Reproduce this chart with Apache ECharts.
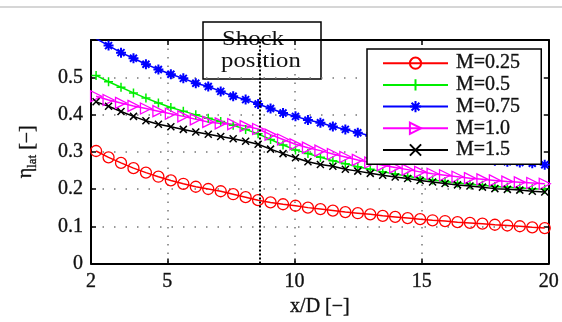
<!DOCTYPE html>
<html><head><meta charset="utf-8">
<script src="https://cdn.jsdelivr.net/npm/echarts@6/dist/echarts.min.js"></script>
<style>html,body{margin:0;padding:0;background:#fff}#c{width:562px;height:322px}</style>
</head><body><div id="c"></div>
<script>
// x/D positions of the markers
const xD = [2.2, 2.69, 3.18, 3.67, 4.16, 4.65, 5.14, 5.63, 6.12, 6.61, 7.1, 7.59, 8.08, 8.57, 9.06, 9.55, 10.04, 10.53, 11.02, 11.51, 12.0, 12.49, 12.98, 13.47, 13.96, 14.45, 14.94, 15.43, 15.92, 16.41, 16.9, 17.39, 17.88, 18.37, 18.86, 19.35, 19.84];
const m025 = [0.302, 0.285, 0.270, 0.256, 0.244, 0.233, 0.223, 0.214, 0.206, 0.200, 0.194, 0.186, 0.178, 0.170, 0.164, 0.159, 0.155, 0.150, 0.146, 0.142, 0.138, 0.135, 0.132, 0.128, 0.125, 0.122, 0.119, 0.116, 0.114, 0.111, 0.109, 0.107, 0.104, 0.102, 0.100, 0.097, 0.095];
const m05 = [0.505, 0.488, 0.473, 0.458, 0.444, 0.431, 0.419, 0.409, 0.399, 0.390, 0.381, 0.371, 0.360, 0.348, 0.333, 0.318, 0.305, 0.295, 0.285, 0.276, 0.268, 0.260, 0.253, 0.246, 0.240, 0.234, 0.228, 0.224, 0.220, 0.216, 0.213, 0.210, 0.207, 0.205, 0.203, 0.201, 0.199];
const m075 = [0.604, 0.585, 0.566, 0.551, 0.535, 0.521, 0.508, 0.497, 0.484, 0.475, 0.462, 0.449, 0.440, 0.428, 0.416, 0.404, 0.395, 0.385, 0.378, 0.368, 0.360, 0.351, 0.343, 0.335, 0.327, 0.319, 0.311, 0.304, 0.297, 0.291, 0.285, 0.280, 0.276, 0.273, 0.271, 0.269, 0.265];
const m10 = [0.449, 0.439, 0.431, 0.423, 0.416, 0.409, 0.402, 0.395, 0.387, 0.380, 0.376, 0.374, 0.369, 0.361, 0.346, 0.333, 0.320, 0.311, 0.303, 0.294, 0.286, 0.278, 0.271, 0.264, 0.258, 0.252, 0.246, 0.241, 0.237, 0.233, 0.229, 0.226, 0.223, 0.220, 0.218, 0.216, 0.214];
const m15 = [0.434, 0.422, 0.408, 0.395, 0.383, 0.374, 0.367, 0.360, 0.353, 0.347, 0.341, 0.335, 0.328, 0.320, 0.307, 0.295, 0.284, 0.273, 0.266, 0.261, 0.253, 0.248, 0.242, 0.237, 0.232, 0.228, 0.223, 0.219, 0.215, 0.211, 0.208, 0.205, 0.201, 0.199, 0.197, 0.194, 0.192];
const seriesNames = ['M=0.25', 'M=0.5', 'M=0.75', 'M=1.0', 'M=1.5'];
const xTickLabels = [2, 5, 10, 15, 20];
const xInnerTicks = [5, 10, 15];
const shockX = 8.65;

const F = 'Liberation Serif';
const TXT = '#111';
const BOLD = { textBorderColor: '#333', textBorderWidth: 0.4 };
const pair = arr => xD.map((x, i) => [x, arr[i]]);

const styles = [
  { c: '#ff0000', sym: 'circle', size: 11, bw: 1.3 },
  { c: '#00ee00', sym: 'path://M5,0L5,10M0,5L10,5', size: 9, bw: 1.5 },
  { c: '#0000ff', sym: 'path://M5,0L5,10M0,5L10,5M1.5,1.5L8.5,8.5M1.5,8.5L8.5,1.5', size: 10, bw: 2 },
  { c: '#ff00ff', sym: 'path://M0,0L10,5L0,10Z', size: 11, bw: 1.3 },
  { c: '#000000', sym: 'path://M0,0L10,10M0,10L10,0', size: 7, bw: 1.5 }
];
const dataSets = [m025, m05, m075, m10, m15];

const series = dataSets.map((d, i) => {
  const s = styles[i];
  return {
    name: seriesNames[i], type: 'line', data: pair(d), clip: true,
    symbol: s.sym, symbolSize: s.size, showSymbol: true,
    lineStyle: { color: s.c, width: 1.5 },
    itemStyle: { color: 'rgba(0,0,0,0)', borderColor: s.c, borderWidth: s.bw },
    emphasis: { disabled: true }, z: 3
  };
});
series[4].markLine = {
  silent: true, symbol: 'none', animation: false,
  label: { show: false },
  lineStyle: { color: '#000', type: [2, 2], width: 2 },
  data: [{ xAxis: shockX }]
};

const axLine = { show: true, onZero: false, lineStyle: { color: '#000', width: 2 } };
const tick = { show: true, inside: true, length: 5, lineStyle: { color: '#000', width: 1.5 } };
const lab = Object.assign({ fontFamily: F, fontSize: 20, color: TXT }, BOLD);

const option = {
  animation: false,
  backgroundColor: '#fff',
  grid: { left: 91, right: 11, top: 40, bottom: 50.5, containLabel: false },
  xAxis: [
    { type: 'value', min: 2, max: 20, position: 'bottom',
      axisLine: axLine,
      axisTick: Object.assign({}, tick, { customValues: xInnerTicks }),
      axisLabel: Object.assign({}, lab, { customValues: xTickLabels, margin: 8 }),
      splitLine: { show: true, lineStyle: { color: '#777', type: [1.5, 7], width: 1.5 } },
      name: 'x/D [−]', nameLocation: 'middle', nameGap: 29,
      nameTextStyle: Object.assign({ fontFamily: F, fontSize: 20, color: TXT }, BOLD) },
    { type: 'value', min: 2, max: 20, position: 'top',
      axisLine: axLine,
      axisTick: Object.assign({}, tick, { customValues: xInnerTicks }),
      axisLabel: { show: false }, splitLine: { show: false } }
  ],
  yAxis: [
    { type: 'value', min: 0, max: 0.6, interval: 0.1, position: 'left',
      axisLine: axLine, axisTick: tick,
      axisLabel: Object.assign({}, lab, { showMaxLabel: false, margin: 8 }),
      splitLine: { show: true, lineStyle: { color: '#777', type: [1.5, 10], width: 1.5 } },
      name: '{e|η}{s|lat} [−]', nameLocation: 'middle', nameGap: 52, nameRotate: 90,
      nameTextStyle: Object.assign({ fontFamily: F, fontSize: 20, color: TXT,
        rich: { e: Object.assign({ fontFamily: F, fontSize: 20, color: TXT, verticalAlign: 'top', lineHeight: 20 }, BOLD),
                s: Object.assign({ fontFamily: F, fontSize: 13, color: TXT, verticalAlign: 'top', padding: [10, 0, 0, 0] }, BOLD) } }, BOLD) },
    { type: 'value', min: 0, max: 0.6, interval: 0.1, position: 'right',
      axisLine: axLine, axisTick: tick,
      axisLabel: { show: false }, splitLine: { show: false } }
  ],
  legend: {
    orient: 'vertical', left: 367, top: 49,
    padding: [4, 21, 4, 15], itemWidth: 65, itemHeight: 14, itemGap: 1.3,
    backgroundColor: '#fff', borderColor: '#000', borderWidth: 1.5, borderRadius: 0,
    textStyle: Object.assign({ fontFamily: F, fontSize: 20, color: TXT, lineHeight: 20, padding: [0, 0, 0, 3] }, BOLD),
    data: seriesNames, selectedMode: false, z: 10
  },
  graphic: [
    { type: 'line', shape: { x1: 0, y1: 7, x2: 562, y2: 7 }, style: { stroke: '#d6d6d6', lineWidth: 2 }, silent: true },
    { type: 'group', x: 203, y: 22, z: 100, children: [
      { type: 'rect', shape: { x: 0, y: 0, width: 118, height: 57 }, style: { fill: '#fff', stroke: '#000', lineWidth: 1.5 } },
      { type: 'text', x: 19, y: 17, scaleX: 1.18, style: { text: 'Shock', font: '21px "Liberation Serif"', fill: TXT, textAlign: 'left', textVerticalAlign: 'middle' } },
      { type: 'text', x: 18, y: 39, scaleX: 1.18, style: { text: 'position', font: '21px "Liberation Serif"', fill: TXT, textAlign: 'left', textVerticalAlign: 'middle' } }
    ] }
  ],
  series: series
};
const chart = echarts.init(document.getElementById('c'), null, { renderer: 'canvas' });
chart.setOption(option);
</script></body></html>
